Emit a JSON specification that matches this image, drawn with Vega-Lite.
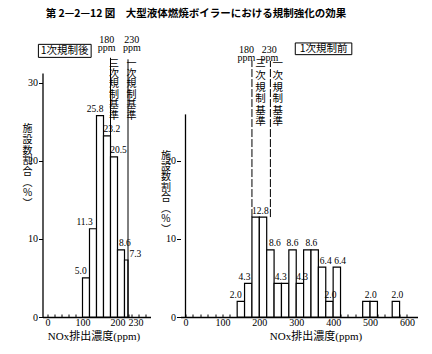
{
  "$schema": "https://vega.github.io/schema/vega-lite/v6.json",
  "background": "white",
  "padding": {"left": 22.5, "top": 8, "right": 5, "bottom": 5},
  "title": {"text": "第 2—2—12 図　大型液体燃焼ボイラーにおける規制強化の効果", "font": "Noto Sans CJK JP", "fontSize": 10.5, "fontWeight": "bold", "color": "black", "anchor": "middle", "dx": -24, "offset": 16},
  "config": {
    "font": "Liberation Serif, Noto Sans CJK JP",
    "view": {"stroke": null},
    "axis": {"domainColor": "black", "domainWidth": 1.3, "tickColor": "black", "tickWidth": 1, "labelColor": "black", "titleColor": "black", "labelFont": "Liberation Serif", "labelFontSize": 10, "grid": false, "titleFontWeight": "normal"}
  },
  "datasets": {
    "after": [
      {"lo": 100, "hi": 120, "pct": 5.0},
      {"lo": 120, "hi": 140, "pct": 11.3},
      {"lo": 140, "hi": 160, "pct": 25.8},
      {"lo": 160, "hi": 180, "pct": 23.2},
      {"lo": 180, "hi": 200, "pct": 20.5},
      {"lo": 200, "hi": 220, "pct": 8.6},
      {"lo": 220, "hi": 230, "pct": 7.3}
    ],
    "before": [
      {"lo": 140, "hi": 160, "pct": 2.0},
      {"lo": 160, "hi": 180, "pct": 4.3},
      {"lo": 180, "hi": 200, "pct": 12.8},
      {"lo": 200, "hi": 220, "pct": 12.8},
      {"lo": 220, "hi": 240, "pct": 8.6},
      {"lo": 240, "hi": 260, "pct": 4.3},
      {"lo": 260, "hi": 280, "pct": 4.3},
      {"lo": 280, "hi": 300, "pct": 8.6},
      {"lo": 300, "hi": 320, "pct": 4.3},
      {"lo": 320, "hi": 340, "pct": 8.6},
      {"lo": 340, "hi": 360, "pct": 8.6},
      {"lo": 360, "hi": 380, "pct": 6.4},
      {"lo": 380, "hi": 400, "pct": 2.0},
      {"lo": 400, "hi": 420, "pct": 6.4},
      {"lo": 480, "hi": 500, "pct": 2.0},
      {"lo": 500, "hi": 520, "pct": 2.0},
      {"lo": 560, "hi": 580, "pct": 2.0}
    ],
    "labels_after": [
      {"at": 95, "pct": 5.0},
      {"at": 106, "pct": 11.3},
      {"at": 136, "pct": 25.8},
      {"at": 184, "pct": 23.2},
      {"at": 203, "pct": 20.5},
      {"at": 221, "pct": 8.6},
      {"at": 251, "pct": 7.3}
    ],
    "labels_before": [
      {"at": 136, "pct": 2.0},
      {"at": 160, "pct": 4.3},
      {"at": 203, "pct": 12.8},
      {"at": 242, "pct": 8.6},
      {"at": 258, "pct": 4.3},
      {"at": 290, "pct": 8.6},
      {"at": 316, "pct": 4.3},
      {"at": 341, "pct": 8.6},
      {"at": 380, "pct": 6.4},
      {"at": 393, "pct": 2.0},
      {"at": 419, "pct": 6.4},
      {"at": 502, "pct": 2.0},
      {"at": 574, "pct": 2.0}
    ],
    "one": [{}]
  },
  "bounds": "flush",
  "spacing": 30,
  "hconcat": [
    {
      "width": 108,
      "height": 244,
      "layer": [
        {
          "data": {"name": "after"},
          "mark": {"type": "bar", "fill": "white", "stroke": "black", "strokeWidth": 1.2, "orient": "vertical"},
          "encoding": {
            "x": {"field": "lo", "type": "quantitative", "scale": {"domain": [0, 280], "nice": false, "zero": false},
              "axis": {"values": [0, 20, 40, 60, 80, 100, 120, 140, 160, 180, 200, 220, 230, 240, 260, 280], "tickCount": 100, "format": "d", "tickSize": -3, "labelOverlap": false, "labelFlush": false, "labelPadding": 3,
                "labelExpr": "indexof([0, 100, 200, 230], datum.value) >= 0 ? datum.label : ''",
                "labelAlign": {"condition": {"test": "datum.value == 230", "value": "left"}, "value": "center"},
                "title": "NOx排出濃度(ppm)", "titleFontSize": 11, "titleX": 51, "titleY": 19, "titleAlign": "center", "titleBaseline": "middle"}},
            "x2": {"field": "hi"},
            "y": {"field": "pct", "type": "quantitative", "scale": {"domain": [0, 31.25], "nice": false},
              "axis": {"values": [0, 10, 20, 30], "tickCount": 100, "format": "d", "tickSize": 4, "labelPadding": 1, "title": null}},
            "y2": {"datum": 0}
          }
        },
        {
          "data": {"name": "labels_after"},
          "mark": {"type": "text", "fontSize": 9.5, "baseline": "bottom", "dy": -1.5, "color": "black"},
          "encoding": {
            "x": {"field": "at", "type": "quantitative"},
            "y": {"field": "pct", "type": "quantitative"},
            "text": {"field": "pct", "type": "quantitative", "format": ".1f"}
          }
        },
        {
          "data": {"name": "one"},
          "mark": {"type": "text", "lineBreak": "\n", "font": "Noto Sans CJK JP", "fontSize": 10, "lineHeight": 10.7, "baseline": "top", "align": "center", "color": "black"},
          "encoding": {"x": {"datum": -57}, "y": {"datum": 24.7}, "text": {"value": "施\n設\n数\n割\n合\n︵\n%\n︶"}}
        },
        {
          "data": {"name": "one"},
          "mark": {"type": "rule", "stroke": "black", "strokeWidth": 1},
          "encoding": {"x": {"datum": 180}, "y": {"datum": 0}, "y2": {"datum": 33.2}}
        },
        {
          "data": {"name": "one"},
          "mark": {"type": "rule", "stroke": "black", "strokeWidth": 1},
          "encoding": {"x": {"datum": 230}, "y": {"datum": 0}, "y2": {"datum": 33.0}}
        },
        {
          "data": {"name": "one"},
          "mark": {"type": "text", "lineBreak": "\n", "fontSize": 10, "lineHeight": 7.5, "baseline": "top", "align": "center", "color": "black"},
          "encoding": {"x": {"datum": 169}, "y": {"datum": 36.1}, "text": {"value": "180\nppm"}}
        },
        {
          "data": {"name": "one"},
          "mark": {"type": "text", "lineBreak": "\n", "fontSize": 10, "lineHeight": 7.5, "baseline": "top", "align": "center", "color": "black"},
          "encoding": {"x": {"datum": 241}, "y": {"datum": 36.1}, "text": {"value": "230\nppm"}}
        },
        {
          "data": {"name": "one"},
          "mark": {"type": "text", "lineBreak": "\n", "font": "Noto Sans CJK JP", "fontSize": 10, "lineHeight": 10.4, "baseline": "top", "align": "center", "color": "black"},
          "encoding": {"x": {"datum": 190}, "y": {"datum": 33.1}, "text": {"value": "三\n次\n規\n制\n基\n準"}}
        },
        {
          "data": {"name": "one"},
          "mark": {"type": "text", "lineBreak": "\n", "font": "Noto Sans CJK JP", "fontSize": 10, "lineHeight": 10.4, "baseline": "top", "align": "center", "color": "black"},
          "encoding": {"x": {"datum": 240}, "y": {"datum": 33.1}, "text": {"value": "一\n次\n規\n制\n基\n準"}}
        },
        {
          "data": {"name": "one"},
          "mark": {"type": "rect", "fill": "white", "stroke": "black", "strokeWidth": 1},
          "encoding": {"x": {"datum": -26}, "x2": {"datum": 124.7}, "y": {"datum": 33.25}, "y2": {"datum": 34.92}}
        },
        {
          "data": {"name": "one"},
          "mark": {"type": "text", "font": "Noto Sans CJK JP", "fontSize": 10.5, "baseline": "middle", "align": "center", "color": "black"},
          "encoding": {"x": {"datum": 49}, "y": {"datum": 34.08}, "text": {"value": "1次規制後"}}
        }
      ]
    },
    {
      "width": 237,
      "height": 244,
      "layer": [
        {
          "data": {"name": "before"},
          "mark": {"type": "bar", "fill": "white", "stroke": "black", "strokeWidth": 1.2, "orient": "vertical"},
          "encoding": {
            "x": {"field": "lo", "type": "quantitative", "scale": {"domain": [0, 615], "nice": false, "zero": false},
              "axis": {"values": [0, 20, 40, 60, 80, 100, 120, 140, 160, 180, 200, 220, 240, 260, 280, 300, 320, 340, 360, 380, 400, 420, 440, 460, 480, 500, 520, 540, 560, 580, 600], "tickCount": 100, "format": "d", "tickSize": -3, "labelOverlap": false, "labelFlush": false, "labelPadding": 3,
                "labelExpr": "datum.value % 100 == 0 ? datum.label : ''",
                "title": "NOx排出濃度(ppm)", "titleFontSize": 11, "titleX": 135, "titleY": 19, "titleAlign": "center", "titleBaseline": "middle"}},
            "x2": {"field": "hi"},
            "y": {"field": "pct", "type": "quantitative", "scale": {"domain": [0, 31.25], "nice": false},
              "axis": {"values": [0, 10, 20], "tickCount": 100, "format": "d", "tickSize": 4, "labelPadding": 1, "domain": false, "title": null}},
            "y2": {"datum": 0}
          }
        },
        {
          "data": {"name": "one"},
          "mark": {"type": "rule", "stroke": "black", "strokeWidth": 1.3},
          "encoding": {"x": {"datum": 0}, "y": {"datum": 0}, "y2": {"datum": 25.95}}
        },
        {
          "data": {"name": "one"},
          "mark": {"type": "text", "lineBreak": "\n", "font": "Noto Sans CJK JP", "fontSize": 10, "lineHeight": 10.5, "baseline": "top", "align": "center", "color": "black"},
          "encoding": {"x": {"datum": -53}, "y": {"datum": 21.2}, "text": {"value": "施\n設\n数\n割\n合\n︵\n%\n︶"}}
        },
        {
          "data": {"name": "labels_before"},
          "mark": {"type": "text", "fontSize": 9.5, "baseline": "bottom", "dy": -1.5, "color": "black"},
          "encoding": {
            "x": {"field": "at", "type": "quantitative"},
            "y": {"field": "pct", "type": "quantitative"},
            "text": {"field": "pct", "type": "quantitative", "format": ".1f"}
          }
        },
        {
          "data": {"name": "one"},
          "mark": {"type": "rule", "stroke": "black", "strokeWidth": 1, "strokeDash": [8, 2]},
          "encoding": {"x": {"datum": 180}, "y": {"datum": 12.8}, "y2": {"datum": 32.8}}
        },
        {
          "data": {"name": "one"},
          "mark": {"type": "rule", "stroke": "black", "strokeWidth": 1, "strokeDash": [8, 2]},
          "encoding": {"x": {"datum": 230}, "y": {"datum": 12.8}, "y2": {"datum": 32.8}}
        },
        {
          "data": {"name": "one"},
          "mark": {"type": "text", "lineBreak": "\n", "fontSize": 10, "lineHeight": 7.5, "baseline": "top", "align": "center", "color": "black"},
          "encoding": {"x": {"datum": 165}, "y": {"datum": 34.8}, "text": {"value": "180\nppm"}}
        },
        {
          "data": {"name": "one"},
          "mark": {"type": "text", "lineBreak": "\n", "fontSize": 10, "lineHeight": 7.5, "baseline": "top", "align": "center", "color": "black"},
          "encoding": {"x": {"datum": 227}, "y": {"datum": 34.8}, "text": {"value": "230\nppm"}}
        },
        {
          "data": {"name": "one"},
          "mark": {"type": "text", "lineBreak": "\n", "font": "Noto Sans CJK JP", "fontSize": 10.5, "lineHeight": 11.6, "baseline": "top", "align": "center", "color": "black"},
          "encoding": {"x": {"datum": 203}, "y": {"datum": 33.0}, "text": {"value": "三\n次\n規\n制\n基\n準"}}
        },
        {
          "data": {"name": "one"},
          "mark": {"type": "text", "lineBreak": "\n", "font": "Noto Sans CJK JP", "fontSize": 10.5, "lineHeight": 11.6, "baseline": "top", "align": "center", "color": "black"},
          "encoding": {"x": {"datum": 250}, "y": {"datum": 33.0}, "text": {"value": "一\n次\n規\n制\n基\n準"}}
        },
        {
          "data": {"name": "one"},
          "mark": {"type": "rect", "fill": "white", "stroke": "black", "strokeWidth": 1},
          "encoding": {"x": {"datum": 297.4}, "x2": {"datum": 450.6}, "y": {"datum": 33.6}, "y2": {"datum": 35.1}}
        },
        {
          "data": {"name": "one"},
          "mark": {"type": "text", "font": "Noto Sans CJK JP", "fontSize": 10.5, "baseline": "middle", "align": "center", "color": "black"},
          "encoding": {"x": {"datum": 374}, "y": {"datum": 34.35}, "text": {"value": "1次規制前"}}
        }
      ]
    }
  ]
}
